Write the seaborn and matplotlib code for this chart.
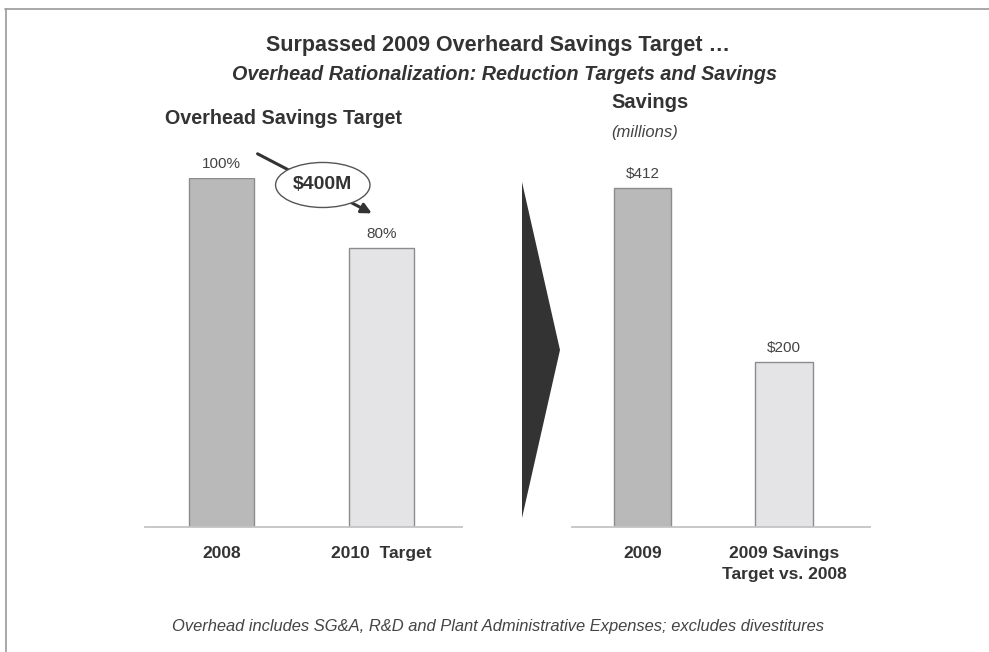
import matplotlib
matplotlib.use("Agg")
import matplotlib.pyplot as plt
import seaborn as sns
import pandas as pd
from matplotlib.patches import Ellipse, Polygon
from matplotlib.lines import Line2D

# data
target_labels = ["2008", "2010  Target"]
target_values = [100, 80]
target_text = ["100%", "80%"]

savings_labels = ["2009", "2009 Savings\nTarget vs. 2008"]
savings_values = [412, 200]
savings_text = ["$412", "$200"]

bar_colors = ["#b9b9ba", "#e4e4e6"]

sns.set_style("white")
plt.rcParams["font.family"] = ["Liberation Sans", "DejaVu Sans"]

W, H = 989, 652
fig = plt.figure(figsize=(W / 100, H / 100), dpi=100)

def px_axes(x0, x1, ybase, h):
    return fig.add_axes([x0 / W, 1 - ybase / H, (x1 - x0) / W, h / H])

ax1 = px_axes(145, 462, 527, 349)
ax2 = px_axes(572, 870, 527, 349)

df1 = pd.DataFrame({"cat": target_labels, "val": target_values})
df2 = pd.DataFrame({"cat": savings_labels, "val": savings_values})

sns.barplot(data=df1, x="cat", y="val", hue="cat", palette=bar_colors,
            width=0.406, edgecolor="#8c8c8c", linewidth=1.0, legend=False, ax=ax1)
sns.barplot(data=df2, x="cat", y="val", hue="cat", palette=bar_colors,
            width=0.406, edgecolor="#8c8c8c", linewidth=1.0, legend=False, ax=ax2)

ax1.set_xlim(-0.478, 1.503)
ax1.set_ylim(0, 100)
ax2.set_xlim(-0.498, 1.608)
ax2.set_ylim(0, 424)

for ax, vals, texts in [(ax1, target_values, target_text), (ax2, savings_values, savings_text)]:
    ax.set_xlabel("")
    ax.set_ylabel("")
    ax.set_yticks([])
    for s in ["top", "right", "left"]:
        ax.spines[s].set_visible(False)
    ax.spines["bottom"].set_color("#c4c4c4")
    ax.spines["bottom"].set_linewidth(1.3)
    ax.tick_params(axis="x", length=0, pad=14, labelsize=12.5, labelcolor="#333333")
    for lab in ax.get_xticklabels():
        lab.set_fontweight("bold")
        lab.set_verticalalignment("top")
        lab.set_linespacing(1.5)
    for i, (v, t) in enumerate(zip(vals, texts)):
        ax.annotate(t, (i, v), xytext=(0, 5), textcoords="offset points",
                    ha="center", va="bottom", fontsize=11, color="#444444")

# $400M callout
ax1.annotate("", xy=(0.955, 89.5), xytext=(0.21, 107.3),
             arrowprops=dict(arrowstyle="-|>,head_length=0.6,head_width=0.3",
                             color="#333333", lw=2.2), annotation_clip=False)
ell = Ellipse((0.633, 98.0), 0.59, 12.9, facecolor="white", edgecolor="#555555",
              lw=1.0, clip_on=False, zorder=5)
ax1.add_patch(ell)
ax1.text(0.633, 98.0, "$400M", ha="center", va="center", fontsize=14,
         fontweight="bold", color="#333333", zorder=6, clip_on=False)

# chevron between the panels
fig.patches.append(Polygon([(522 / W, 1 - 182 / H), (560 / W, 1 - 350 / H), (522 / W, 1 - 518 / H)],
                           closed=True, transform=fig.transFigure, facecolor="#333333",
                           edgecolor="none"))

# frame lines
fig.lines.append(Line2D([5 / W, 1], [1 - 8.5 / H, 1 - 8.5 / H], transform=fig.transFigure,
                        color="#9a9a9a", lw=1.2))
fig.lines.append(Line2D([5.5 / W, 5.5 / W], [0, 1 - 8.5 / H], transform=fig.transFigure,
                        color="#9a9a9a", lw=1.2))

# texts
def ftext(x, y, s, **kw):
    fig.text(x / W, 1 - y / H, s, **kw)

ftext(497.5, 45, "Surpassed 2009 Overheard Savings Target \u2026", ha="center", va="center",
      fontsize=15.5, fontweight="bold", color="#333333")
ftext(504.5, 75, "Overhead Rationalization: Reduction Targets and Savings", ha="center", va="center",
      fontsize=14.2, fontweight="bold", fontstyle="italic", color="#333333")
ftext(165, 118, "Overhead Savings Target", ha="left", va="center",
      fontsize=14.2, fontweight="bold", color="#333333")
ftext(611, 103, "Savings", ha="left", va="center",
      fontsize=14.5, fontweight="bold", color="#333333")
ftext(611, 132, "(millions)", ha="left", va="center",
      fontsize=12, fontstyle="italic", color="#444444")
ftext(497.5, 626, "Overhead includes SG&A, R&D and Plant Administrative Expenses; excludes divestitures",
      ha="center", va="center", fontsize=11.9, fontstyle="italic", color="#444444")

fig.savefig("out.png", dpi=100)
